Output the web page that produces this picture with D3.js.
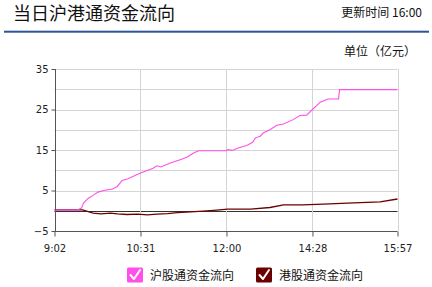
<!DOCTYPE html>
<html><head><meta charset="utf-8">
<script src="https://cdn.jsdelivr.net/npm/d3@7/dist/d3.min.js"></script>
<style>body{margin:0;background:#fff}svg{display:block}</style>
</head><body>
<script>
// ---- data ----
const titleText = "当日沪港通资金流向";
const updateText = "更新时间 16:00";
const unitText = "单位（亿元）";
const seriesNames = ["沪股通资金流向", "港股通资金流向"];
const tickIdx = [0, 89, 178, 267, 355];
const tickLabels = ["9:02", "10:31", "12:00", "14:28", "15:57"];
const yTicks = [35, 25, 15, 5, -5];
const yGrid = [-5, 0, 5, 10, 15, 20, 25, 30, 35];

const shIdx = [0, 23, 28, 30, 35, 40, 45, 51, 60, 65, 70, 76, 89, 96, 102, 106, 110, 120, 130, 137, 144, 149, 178, 179, 184, 190, 199, 205, 208, 213, 216, 223, 230, 237, 247, 254, 261, 267, 275, 283, 294, 295, 355];
const shVals = [0.2, 0.15, 0.65, 1.9, 3.1, 3.8, 4.6, 5.0, 5.35, 6.0, 7.5, 7.9, 9.3, 9.95, 10.5, 11.1, 10.8, 11.8, 12.6, 13.2, 14.25, 14.8, 14.8, 15.1, 14.9, 15.5, 16.1, 16.9, 18.0, 18.4, 19.2, 20.0, 21.1, 21.4, 22.5, 23.5, 23.6, 25.0, 26.8, 27.6, 27.6, 29.9, 29.9];

const hkIdx = [0, 29, 40, 48, 58, 65, 75, 86, 96, 106, 117, 127, 141, 154, 168, 179, 203, 223, 237, 257, 285, 303, 337, 355];
const hkVals = [0.22, 0.2, -0.6, -0.77, -0.6, -0.77, -0.93, -0.85, -1.0, -0.85, -0.7, -0.45, -0.27, -0.1, 0.15, 0.4, 0.4, 0.8, 1.46, 1.46, 1.7, 1.9, 2.2, 2.9];

const colors = ["#ff4fe8", "#6a0000"];

// ---- drawing ----
const W = 432, H = 287;
const svg = d3.select("body").append("svg").attr("width", W).attr("height", H);
const cjk = "'Noto Sans CJK SC', sans-serif";
const num = "'DejaVu Sans', sans-serif";

svg.append("text").attr("x", 13).attr("y", 20).attr("font-family", cjk).attr("font-size", 18)
  .attr("fill", "#111").text(titleText);
svg.append("text").attr("x", 422).attr("y", 17).attr("text-anchor", "end").attr("font-family", cjk)
  .attr("font-size", 12).attr("fill", "#111").text(updateText);
svg.append("rect").attr("x", 4).attr("y", 30.7).attr("width", 425).attr("height", 2).attr("fill", "#2d5596");
svg.append("text").attr("x", 416).attr("y", 56).attr("text-anchor", "end").attr("font-family", cjk)
  .attr("font-size", 12).attr("fill", "#111").text(unitText);

const x = d3.scaleLinear().domain([0, 355]).range([54.5, 397.5]);
const y = d3.scaleLinear().domain([-5, 35]).range([231, 69]);

const g = svg.append("g");
// horizontal grid
g.selectAll(".hg").data(yGrid).join("line")
  .attr("x1", x(0)).attr("x2", x(355))
  .attr("y1", d => Math.round(y(d)) + 0.5).attr("y2", d => Math.round(y(d)) + 0.5)
  .attr("stroke", d => d === 0 ? "#333" : "#d4d4d4").attr("stroke-width", 1);
// vertical grid
g.selectAll(".vg").data(tickIdx.slice(1)).join("line")
  .attr("x1", d => Math.round(x(d)) + 0.5).attr("x2", d => Math.round(x(d)) + 0.5)
  .attr("y1", y(35)).attr("y2", y(-5))
  .attr("stroke", "#d4d4d4");

// y axis
const yAxis = d3.axisLeft(y).tickValues(yTicks).tickSize(4).tickPadding(3).tickFormat(d3.format("d"));
const ya = svg.append("g").attr("transform", `translate(${Math.round(x(0)) + 0.5},0)`).call(yAxis);
ya.select(".domain").attr("stroke", "#555").attr("d", `M-0,${y(35)}V${y(-5)}`);
ya.selectAll(".tick line").attr("stroke", "#555");
ya.selectAll(".tick text").attr("font-family", num).attr("font-size", 10).attr("fill", "#222");

// x axis
const xAxis = d3.axisBottom(x).tickValues(tickIdx).tickSize(5).tickPadding(8)
  .tickFormat((d, i) => tickLabels[i]);
const xa = svg.append("g").attr("transform", `translate(0,${Math.round(y(-5)) + 0.5})`).call(xAxis);
xa.select(".domain").attr("stroke", "#555").attr("d", `M${x(0)},0H${x(355)}`);
xa.selectAll(".tick line").attr("stroke", "#555");
xa.selectAll(".tick text").attr("font-family", num).attr("font-size", 10).attr("fill", "#222");

// lines
const line = d3.line().x(d => x(d[0])).y(d => y(d[1]));
const hkData = hkIdx.map((d, i) => [d, hkVals[i]]);
const shData = shIdx.map((d, i) => [d, shVals[i]]);
svg.append("path").datum(hkData).attr("d", line).attr("fill", "none")
  .attr("stroke", colors[1]).attr("stroke-width", 1.3);
svg.append("path").datum(shData).attr("d", line).attr("fill", "none")
  .attr("stroke", colors[0]).attr("stroke-width", 1.1);

// legend
const legX = [127, 256];
seriesNames.forEach((name, i) => {
  const lg = svg.append("g").attr("transform", `translate(${legX[i]},267.5)`);
  lg.append("rect").attr("width", 16).attr("height", 15).attr("rx", 1.5).attr("fill", colors[i]);
  lg.append("path").attr("d", "M3.5,7.5 L7,11.5 L13,2.5").attr("fill", "none")
    .attr("stroke", "#fff").attr("stroke-width", 2).attr("stroke-linecap", "round").attr("stroke-linejoin", "round");
  lg.append("text").attr("x", 23).attr("y", 12.5).attr("font-family", cjk).attr("font-size", 12)
    .attr("fill", "#111").text(name);
});
</script>
</body></html>
